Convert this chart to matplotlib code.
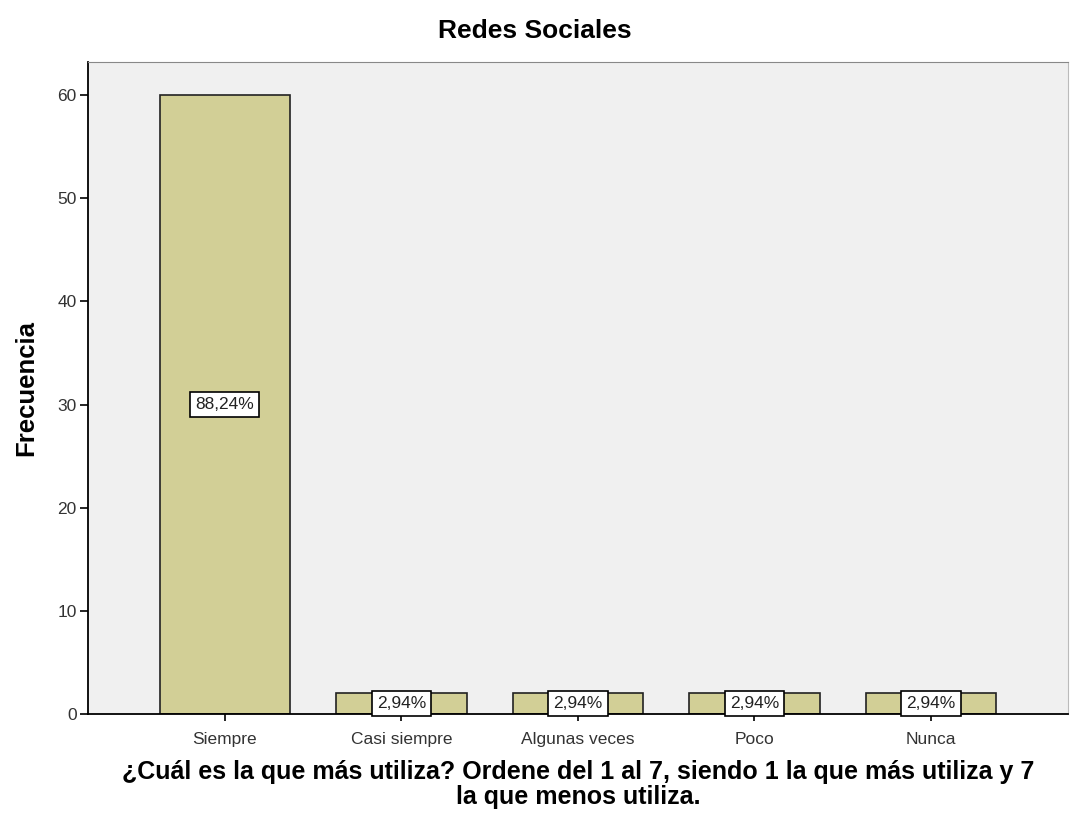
import matplotlib
matplotlib.use('Agg')
import matplotlib.pyplot as plt

plt.rcParams['font.family'] = ['Liberation Sans', 'DejaVu Sans']

categorias = ['Siempre', 'Casi siempre', 'Algunas veces', 'Poco', 'Nunca']
frecuencia = [60, 2, 2, 2, 2]
porcentajes = ['88,24%', '2,94%', '2,94%', '2,94%', '2,94%']

fig = plt.figure(figsize=(10.70, 8.21), dpi=100)
ax = fig.add_axes([0.0822, 0.1303, 0.9158, 0.7942])
ax.set_facecolor('#F0F0F0')

x = range(len(categorias))
bars = ax.bar(x, frecuencia, width=0.74, color='#D2CF96', edgecolor='#222222', linewidth=1.2)

for xi, v, p in zip(x, frecuencia, porcentajes):
    ax.text(xi, v / 2, p, ha='center', va='center', fontsize=12.5, color='#222222',
            bbox=dict(boxstyle='square,pad=0.3', facecolor='white', edgecolor='black', linewidth=1.2))

ax.set_xlim(-0.776, 4.776)
ax.set_ylim(0, 63.2)
ax.set_yticks([0, 10, 20, 30, 40, 50, 60])
ax.set_xticks(list(x))
ax.set_xticklabels(categorias, fontsize=12.5, color='#333333')
ax.tick_params(axis='y', labelsize=12.5, labelcolor='#333333', length=6, width=1.2, direction='out', pad=2)
ax.tick_params(axis='x', length=5, width=1.2, direction='out', pad=8)

ax.spines['left'].set_linewidth(1.3)
ax.spines['bottom'].set_linewidth(1.3)
ax.spines['top'].set_color('#888888')
ax.spines['right'].set_color('#BBBBBB')
ax.spines['top'].set_linewidth(0.8)
ax.spines['right'].set_linewidth(0.8)

ax.set_ylabel('Frecuencia', fontsize=18.5, fontweight='bold', labelpad=14)
ax.set_xlabel('¿Cuál es la que más utiliza? Ordene del 1 al 7, siendo 1 la que más utiliza y 7\nla que menos utiliza.',
              fontsize=18, fontweight='bold', labelpad=9, linespacing=1.05)
fig.suptitle('Redes Sociales', fontsize=19, fontweight='bold', y=0.977)

fig.savefig('out.png', dpi=100)
